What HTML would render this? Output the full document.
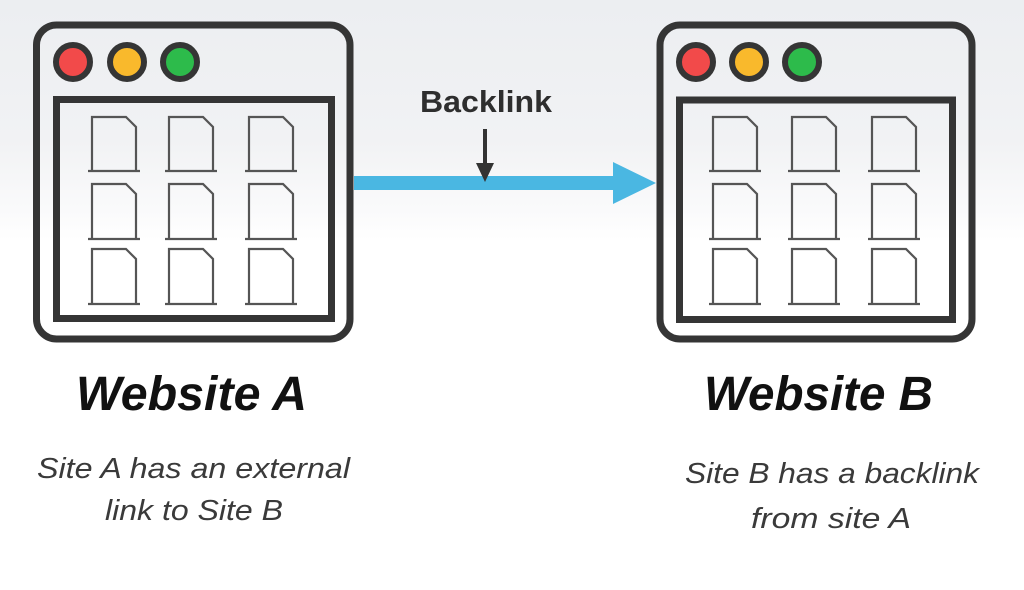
<!DOCTYPE html>
<html>
<head>
<meta charset="utf-8">
<style>
html,body{margin:0;padding:0;}
body{width:1024px;height:590px;overflow:hidden;background:linear-gradient(to bottom,#eceef1 0px,#f1f2f4 140px,#fafafb 210px,#ffffff 240px,#ffffff 590px);}
svg{display:block;}
</style>
</head>
<body>
<svg width="1024" height="590" viewBox="0 0 1024 590" xmlns="http://www.w3.org/2000/svg">
  <!-- Left window -->
  <g fill="none" stroke="#353535">
    <rect x="36.5" y="25" width="313.5" height="314" rx="20" stroke-width="7"/>
    <rect x="56.5" y="99.5" width="275" height="219" stroke-width="7"/>
  </g>
  <circle cx="73" cy="62" r="17" fill="#f24a4a" stroke="#353535" stroke-width="6"/>
  <circle cx="127" cy="62" r="17" fill="#f9b92c" stroke="#353535" stroke-width="6"/>
  <circle cx="180" cy="62" r="17" fill="#2dbb4b" stroke="#353535" stroke-width="6"/>

  <!-- Right window -->
  <g fill="none" stroke="#353535">
    <rect x="660" y="25" width="312" height="314" rx="20" stroke-width="7"/>
    <rect x="679.5" y="100" width="273" height="219.5" stroke-width="7"/>
  </g>
  <circle cx="696" cy="62" r="17" fill="#f24a4a" stroke="#353535" stroke-width="6"/>
  <circle cx="749" cy="62" r="17" fill="#f9b92c" stroke="#353535" stroke-width="6"/>
  <circle cx="802" cy="62" r="17" fill="#2dbb4b" stroke="#353535" stroke-width="6"/>

  <!-- Docs -->
  <g fill="none" stroke="#555" stroke-width="2.2">
    <!-- left window docs -->
    <path d="M92,171 V117 H126 L136,127 V171 M88,171 H140"/>
    <path d="M169,171 V117 H203 L213,127 V171 M165,171 H217"/>
    <path d="M249,171 V117 H283 L293,127 V171 M245,171 H297"/>
    <path d="M92,239 V184 H126 L136,194 V239 M88,239 H140"/>
    <path d="M169,239 V184 H203 L213,194 V239 M165,239 H217"/>
    <path d="M249,239 V184 H283 L293,194 V239 M245,239 H297"/>
    <path d="M92,304 V249 H126 L136,259 V304 M88,304 H140"/>
    <path d="M169,304 V249 H203 L213,259 V304 M165,304 H217"/>
    <path d="M249,304 V249 H283 L293,259 V304 M245,304 H297"/>
    <!-- right window docs -->
    <path d="M713,171 V117 H747 L757,127 V171 M709,171 H761"/>
    <path d="M792,171 V117 H826 L836,127 V171 M788,171 H840"/>
    <path d="M872,171 V117 H906 L916,127 V171 M868,171 H920"/>
    <path d="M713,239 V184 H747 L757,194 V239 M709,239 H761"/>
    <path d="M792,239 V184 H826 L836,194 V239 M788,239 H840"/>
    <path d="M872,239 V184 H906 L916,194 V239 M868,239 H920"/>
    <path d="M713,304 V249 H747 L757,259 V304 M709,304 H761"/>
    <path d="M792,304 V249 H826 L836,259 V304 M788,304 H840"/>
    <path d="M872,304 V249 H906 L916,259 V304 M868,304 H920"/>
  </g>

  <!-- Blue arrow -->
  <rect x="354" y="176" width="262" height="14" fill="#4ab7e2"/>
  <polygon points="613,162 613,204 656,183" fill="#4ab7e2"/>

  <!-- Black down arrow -->
  <line x1="485" y1="129" x2="485" y2="166" stroke="#333" stroke-width="4"/>
  <polygon points="476,163 494,163 485,182" fill="#333"/>

  <!-- Backlink label -->
  <text x="420" y="112" font-family="Liberation Sans, sans-serif" font-size="31" font-weight="bold" fill="#2e2e2e" textLength="132" lengthAdjust="spacingAndGlyphs">Backlink</text>

  <!-- Titles -->
  <text x="76" y="410" font-family="Liberation Sans, sans-serif" font-size="48" font-weight="bold" font-style="italic" fill="#111" textLength="231" lengthAdjust="spacingAndGlyphs">Website A</text>
  <text x="704" y="410" font-family="Liberation Sans, sans-serif" font-size="48" font-weight="bold" font-style="italic" fill="#111" textLength="229" lengthAdjust="spacingAndGlyphs">Website B</text>

  <!-- Subtitles -->
  <g font-family="Liberation Sans, sans-serif" font-size="29" font-style="italic" fill="#3a3a3a">
    <text x="37" y="478" textLength="313" lengthAdjust="spacingAndGlyphs">Site A has an external</text>
    <text x="105" y="520" textLength="178" lengthAdjust="spacingAndGlyphs">link to Site B</text>
    <text x="685" y="483" textLength="294" lengthAdjust="spacingAndGlyphs">Site B has a backlink</text>
    <text x="751" y="528" textLength="160" lengthAdjust="spacingAndGlyphs">from site A</text>
  </g>
</svg>
</body>
</html>
